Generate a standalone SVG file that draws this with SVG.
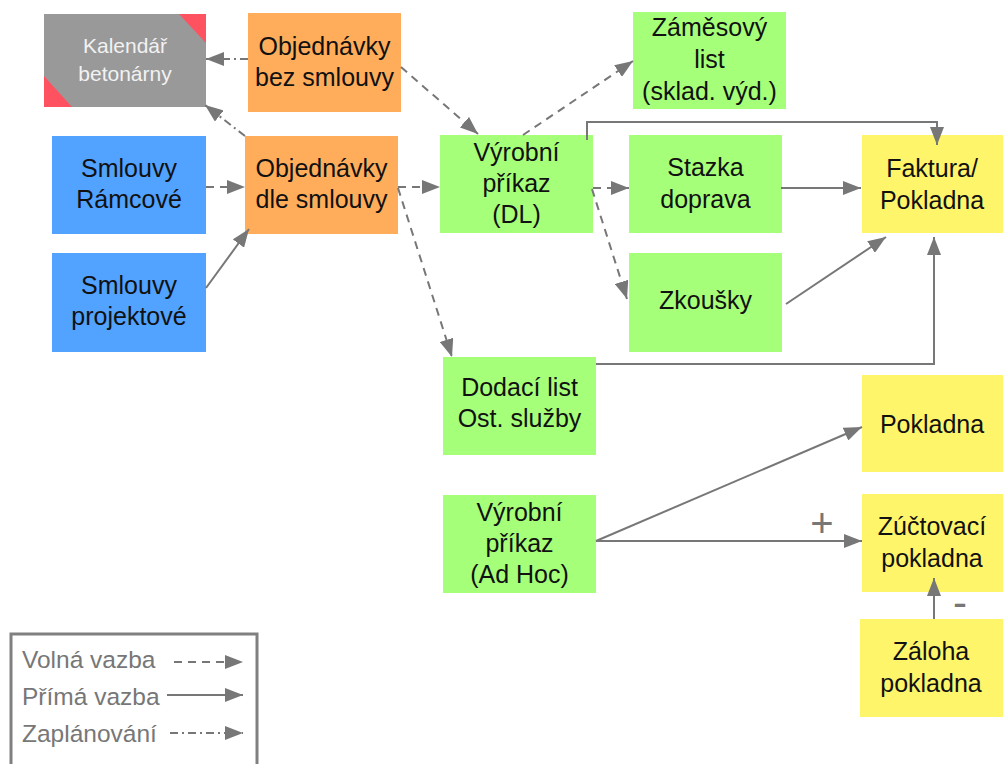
<svg xmlns="http://www.w3.org/2000/svg" width="1003" height="764" viewBox="0 0 1003 764">
<defs>
<marker id="ah" viewBox="0 0 18 14" refX="18" refY="7" markerWidth="18" markerHeight="14" orient="auto" markerUnits="userSpaceOnUse">
<path d="M0,0 L18,7 L0,14 Z" fill="#777"/>
</marker>
<style>
.t{font-family:"Liberation Sans",Arial,sans-serif;font-size:25px;fill:#111;text-anchor:middle}
.k{font-family:"Liberation Sans",Arial,sans-serif;font-size:21px;fill:#f2f2f2;text-anchor:middle}
.lg{font-family:"Liberation Sans",Arial,sans-serif;font-size:24.5px;fill:#777}
.or{fill:#ffad5b}
.bl{fill:#52a2ff}
.gr{fill:#a6ff78}
.ye{fill:#fff56b}
.c{stroke:#777;stroke-width:2;fill:none}
.sol{marker-end:url(#ah)}
.da{stroke-dasharray:8,6;marker-end:url(#ah)}
.dd{stroke-dasharray:8,4,2,4;marker-end:url(#ah)}
</style>
</defs>
<rect width="1003" height="764" fill="#fff"/>

<g id="kalendar">
<rect x="44" y="14" width="162" height="93" fill="#999"/>
<path d="M179,14 H206 V43 Z" fill="#ff5260"/>
<path d="M44,76 V107 H72 Z" fill="#ff5260"/>
<text class="k" x="125" y="53">Kalendář</text>
<text class="k" x="125" y="81">betonárny</text>
</g>

<g id="obj-bez">
<rect class="or" x="248" y="13" width="153" height="99"/>
<text class="t" x="324.5" y="55">Objednávky</text>
<text class="t" x="324.5" y="86">bez smlouvy</text>
</g>

<g id="smlouvy-ramcove">
<rect class="bl" x="52" y="136" width="154" height="98"/>
<text class="t" x="129" y="177">Smlouvy</text>
<text class="t" x="129" y="208">Rámcové</text>
</g>

<g id="obj-dle">
<rect class="or" x="245" y="136" width="153" height="98"/>
<text class="t" x="321.5" y="177">Objednávky</text>
<text class="t" x="321.5" y="208">dle smlouvy</text>
</g>

<g id="smlouvy-projektove">
<rect class="bl" x="52" y="253" width="154" height="99"/>
<text class="t" x="129" y="294">Smlouvy</text>
<text class="t" x="129" y="325">projektové</text>
</g>

<g id="vyrobni-dl">
<rect class="gr" x="440" y="135" width="153" height="98"/>
<text class="t" x="516.5" y="161">Výrobní</text>
<text class="t" x="516.5" y="192">příkaz</text>
<text class="t" x="516.5" y="223">(DL)</text>
</g>

<g id="zamesovy">
<rect class="gr" x="633" y="12" width="153" height="97"/>
<text class="t" x="709.5" y="36">Záměsový</text>
<text class="t" x="709.5" y="68">list</text>
<text class="t" x="709.5" y="100">(sklad. výd.)</text>
</g>

<g id="stazka">
<rect class="gr" x="629" y="135" width="153" height="98"/>
<text class="t" x="705.5" y="176">Stazka</text>
<text class="t" x="705.5" y="208">doprava</text>
</g>

<g id="zkousky">
<rect class="gr" x="629" y="253" width="153" height="99"/>
<text class="t" x="705.5" y="309">Zkoušky</text>
</g>

<g id="faktura">
<rect class="ye" x="862" y="135" width="141" height="98"/>
<text class="t" x="932" y="177">Faktura/</text>
<text class="t" x="932" y="209">Pokladna</text>
</g>

<g id="dodaci">
<rect class="gr" x="443" y="357" width="153" height="98"/>
<text class="t" x="519.5" y="396">Dodací list</text>
<text class="t" x="519.5" y="427">Ost. služby</text>
</g>

<g id="pokladna">
<rect class="ye" x="862" y="375" width="141" height="97"/>
<text class="t" x="932" y="433">Pokladna</text>
</g>

<g id="vyrobni-adhoc">
<rect class="gr" x="443" y="495" width="153" height="98"/>
<text class="t" x="519.5" y="521">Výrobní</text>
<text class="t" x="519.5" y="552">příkaz</text>
<text class="t" x="519.5" y="583">(Ad Hoc)</text>
</g>

<g id="zuctovaci">
<rect class="ye" x="862" y="494" width="141" height="98"/>
<text class="t" x="932" y="535">Zúčtovací</text>
<text class="t" x="932" y="567">pokladna</text>
</g>

<g id="zaloha">
<rect class="ye" x="860" y="619" width="143" height="98"/>
<text class="t" x="931" y="660">Záloha</text>
<text class="t" x="931" y="692">pokladna</text>
</g>

<g id="connectors">
<line class="c dd" x1="248" y1="59" x2="206" y2="59"/>
<line class="c dd" x1="245" y1="136" x2="205" y2="105"/>
<line class="c da" x1="206" y1="187" x2="245" y2="187"/>
<line class="c sol" x1="206" y1="288" x2="249" y2="229"/>
<line class="c da" x1="401" y1="67" x2="478" y2="134"/>
<line class="c da" x1="523" y1="135" x2="633" y2="61"/>
<line class="c da" x1="398" y1="187" x2="440" y2="187"/>
<line class="c da" x1="398" y1="188" x2="452" y2="357"/>
<line class="c da" x1="593" y1="188" x2="629" y2="188"/>
<line class="c da" x1="592" y1="189" x2="627" y2="299"/>
<path class="c sol" d="M587,140 V122 H937 V145"/>
<line class="c sol" x1="781" y1="188" x2="861" y2="188"/>
<line class="c sol" x1="786" y1="304" x2="886" y2="237"/>
<path class="c sol" d="M596,364 H934 V237"/>
<line class="c sol" x1="596" y1="541" x2="862" y2="427"/>
<line class="c sol" x1="596" y1="541" x2="862" y2="541"/>
<line class="c sol" x1="934" y1="619" x2="934" y2="578"/>
<text x="822" y="537" font-family="Liberation Sans,Arial,sans-serif" font-size="40" fill="#777" text-anchor="middle">+</text>
<text x="960" y="617" font-family="Liberation Sans,Arial,sans-serif" font-size="42" fill="#777" text-anchor="middle">-</text>
</g>

<g id="legend">
<rect x="11" y="634" width="246" height="140" fill="none" stroke="#808080" stroke-width="3"/>
<text class="lg" x="22" y="668">Volná vazba</text>
<text class="lg" x="22" y="705">Přímá vazba</text>
<text class="lg" x="22" y="742">Zaplánování</text>
<line class="c da" x1="174" y1="662" x2="243" y2="662"/>
<line class="c sol" x1="167" y1="695" x2="243" y2="695"/>
<line class="c dd" x1="170" y1="733" x2="243" y2="733"/>
</g>
</svg>
